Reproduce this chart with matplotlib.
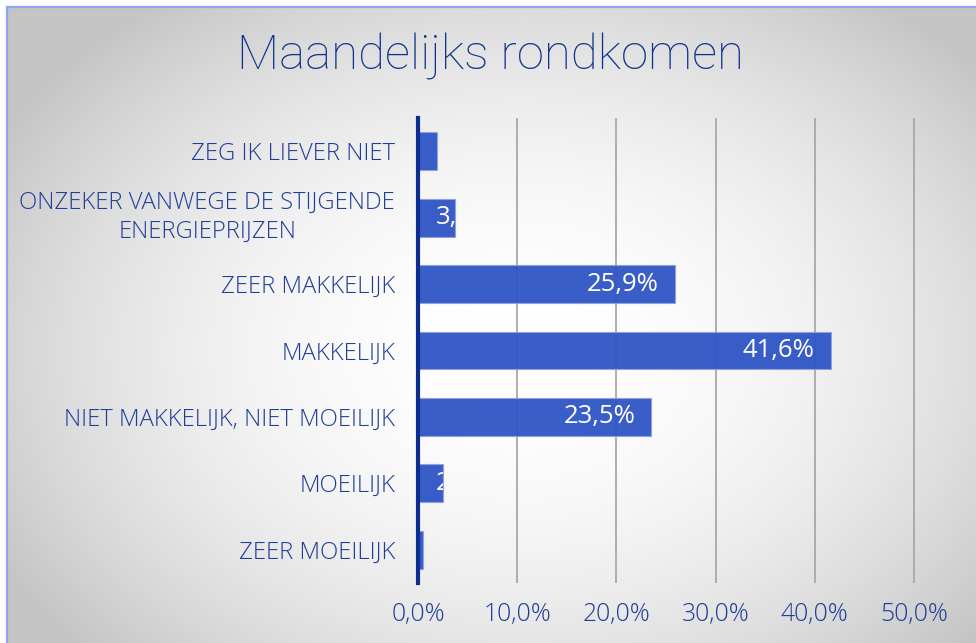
import matplotlib
matplotlib.use("Agg")
import matplotlib.pyplot as plt
from matplotlib.lines import Line2D
import numpy as np

categories = ["ZEG IK LIEVER NIET",
              "ONZEKER VANWEGE DE STIJGENDE\nENERGIEPRIJZEN",
              "ZEER MAKKELIJK",
              "MAKKELIJK",
              "NIET MAKKELIJK, NIET MOEILIJK",
              "MOEILIJK",
              "ZEER MOEILIJK"]
values = [0.019, 0.037, 0.259, 0.416, 0.235, 0.025, 0.005]
value_labels = ["1,9%", "3,7%", "25,9%", "41,6%", "23,5%", "2,5%", "0,5%"]
xticks = [0.0, 0.1, 0.2, 0.3, 0.4, 0.5]
xtick_labels = ["0,0%", "10,0%", "20,0%", "30,0%", "40,0%", "50,0%"]
title = "Maandelijks rondkomen"

W, H = 976, 643
fig = plt.figure(figsize=(W / 100, H / 100), dpi=100)
fig.patch.set_facecolor("white")

# background radial gradient
bg = fig.add_axes([8 / W, 0, 1 - 8 / W, 1 - 8 / H])
bg.set_axis_off()
xs = np.arange(8, W)
ys = np.arange(8, H)
X, Y = np.meshgrid(xs, ys)
cx, cy, rx, ry = 520, 350, 600, 440
r = np.sqrt(((X - cx) / rx) ** 2 + ((Y - cy) / ry) ** 2)
v = 1.0 - 0.23 * np.clip(r, 0, 1.0) ** 2.0
img = np.clip(np.dstack([v, v, v]), 0, 1)
bg.imshow(img, aspect="auto", extent=[0, 1, 0, 1], origin="upper", interpolation="bilinear")
bg.set_xlim(0, 1)
bg.set_ylim(0, 1)

# border lines
fig.add_artist(Line2D([7.5 / W, 1], [1 - 7 / H, 1 - 7 / H], transform=fig.transFigure,
                      color="#8ca6f2", lw=1.6))
fig.add_artist(Line2D([7 / W, 7 / W], [0, 1 - 7 / H], transform=fig.transFigure,
                      color="#8ca6f2", lw=1.6))

text_color = "#1f3d99"
label_font = "Open Sans"

xmax = 0.52
px_per_unit = 992.0
left_px = 418
ax = fig.add_axes([left_px / W, (H - 583) / H, xmax * px_per_unit / W, (583 - 118) / H])
ax.set_facecolor("none")
ypos = np.arange(len(categories))
bars = ax.barh(ypos, values, height=0.57, color="#2f55c6", alpha=0.95,
               edgecolor="#8ea2e0", linewidth=0.8, zorder=3)
ax.set_xlim(0, xmax)
ax.set_ylim(len(categories) - 0.5, -0.5)
ax.set_xticks(xticks)
ax.set_xticklabels(xtick_labels)
ax.set_yticks(ypos)
ax.set_yticklabels(categories, ha="right", multialignment="center", linespacing=1.3)
ax.xaxis.grid(True, color="#a8a8a8", lw=1.3, zorder=0)
ax.set_axisbelow(True)
for s in ["top", "right", "bottom"]:
    ax.spines[s].set_visible(False)
ax.spines["left"].set_color("#0a2d8f")
ax.spines["left"].set_linewidth(3)
ax.spines["left"].set_zorder(5)
ax.tick_params(axis="both", length=0)
ax.tick_params(axis="y", pad=16.5, labelsize=17.2, labelcolor=text_color)
ax.tick_params(axis="x", pad=14, labelsize=17.8, labelcolor=text_color)
for lab in ax.get_xticklabels() + ax.get_yticklabels():
    lab.set_fontfamily(label_font)
    lab.set_fontweight("light")
for lab in ax.get_yticklabels():
    if "\n" in lab.get_text():
        lab.set_verticalalignment("center")

for bar, val, lab in zip(bars, values, value_labels):
    yc = bar.get_y() + bar.get_height() / 2
    if val > 0.1:
        t = ax.annotate(lab, xy=(val, yc), xytext=(-11.5, 0), textcoords="offset points",
                        ha="right", va="center", color="white", fontsize=18.5,
                        fontfamily=label_font, zorder=6)
    else:
        t = ax.annotate(lab, xy=(0, yc), xytext=(13, 0), textcoords="offset points",
                        ha="left", va="center", color="white", fontsize=18.5,
                        fontfamily=label_font, zorder=6)
    t.set_clip_path(bar)

fig.text(491 / W, 1 - 57 / H, title, ha="center", va="center", fontsize=35.5,
         color="#0d3390", fontfamily="Roboto", fontweight="light")

fig.savefig("out.png", dpi=100)
